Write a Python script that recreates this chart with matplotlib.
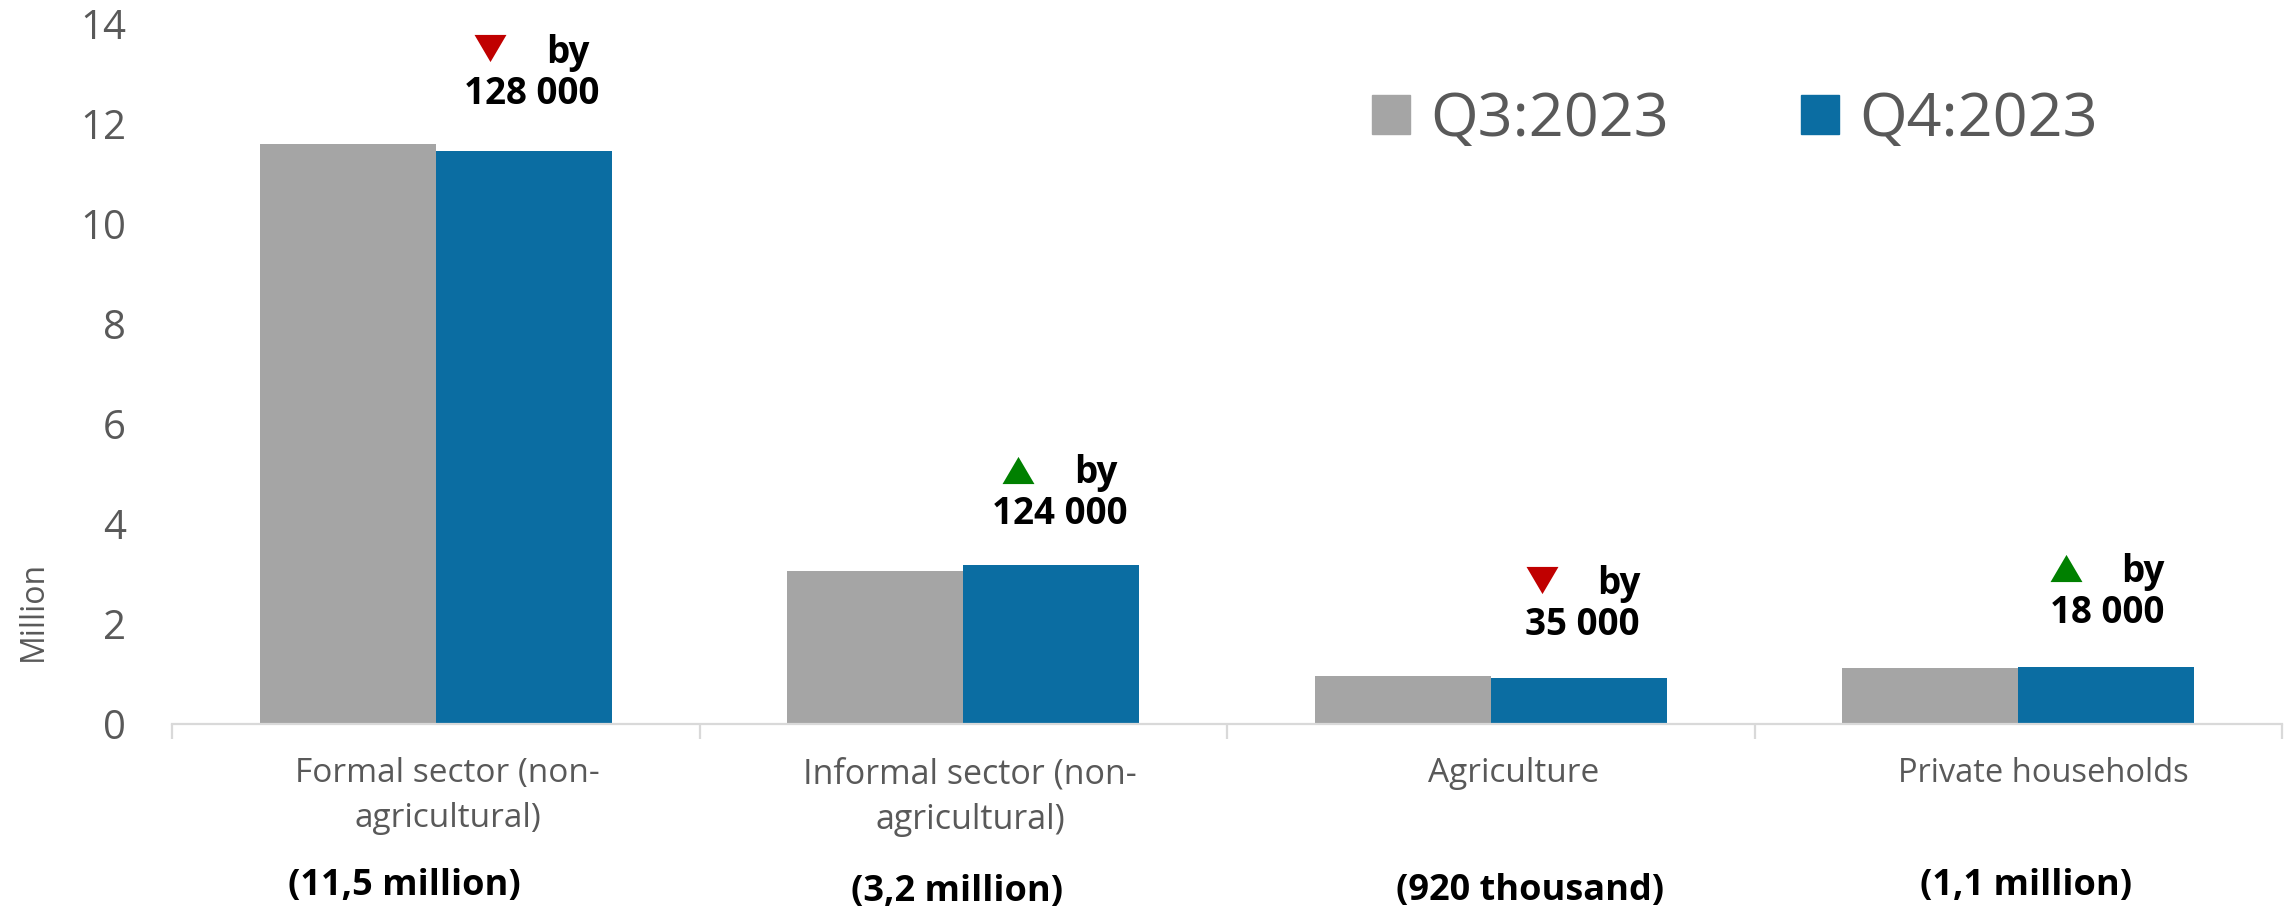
import numpy as np
import matplotlib
matplotlib.use("Agg")
import matplotlib.pyplot as plt
from matplotlib.patches import Patch
from matplotlib.transforms import ScaledTranslation

# ---------------- data ----------------
categories = ["Formal sector (non-\nagricultural)",
              "Informal sector (non-\nagricultural)",
              "Agriculture",
              "Private households"]
q3_2023 = [11.60, 3.06, 0.955, 1.12]
q4_2023 = [11.47, 3.18, 0.92, 1.138]
series_names = ["Q3:2023", "Q4:2023"]
change_text = ["by", "by", "by", "by"]
change_amount = ["128 000", "124 000", "35 000", "18 000"]
change_up = [False, True, False, True]
totals = ["(11,5 million)", "(3,2 million)", "(920 thousand)", "(1,1 million)"]
yticks = [0, 2, 4, 6, 8, 10, 12, 14]

# ---------------- style ----------------
plt.rcParams["font.family"] = ["Open Sans", "DejaVu Sans"]
GRAY = "#A5A5A5"
BLUE = "#0B6DA2"
TXT = "#595959"
AXIS = "#D9D9D9"
RED = "#C00000"
GREEN = "#008000"

W, H = 2285, 914
fig = plt.figure(figsize=(W / 100, H / 100), dpi=100)
ax = fig.add_axes([172 / W, 1 - 724 / H, (2282 - 172) / W, 700 / H])

x = np.arange(len(categories))
bw = 0.3335
ax.bar(x - bw / 2, q3_2023, bw, color=GRAY, zorder=2)
ax.bar(x + bw / 2, q4_2023, bw, color=BLUE, zorder=2)

ax.set_xlim(-0.5, len(categories) - 0.5)
ax.set_ylim(0, 14)

for s in ("left", "top", "right"):
    ax.spines[s].set_visible(False)
ax.spines["bottom"].set_color(AXIS)
ax.spines["bottom"].set_linewidth(1.6)

ax.set_yticks(yticks)
ax.set_yticklabels([str(v) for v in yticks])
ax.tick_params(axis="y", length=0, pad=33, labelsize=29, labelcolor=TXT)

ax.set_xticks(x)
ax.set_xticklabels(categories, linespacing=1.45)
ax.tick_params(axis="x", which="major", length=0, pad=24, labelsize=24, labelcolor=TXT)
label_sizes = [24, 24.5, 24, 23.5]
label_shift_in = [0.12, 0.07, 0.23, 0.25]
for lbl, fs, dx in zip(ax.get_xticklabels(), label_sizes, label_shift_in):
    lbl.set_fontsize(fs)
    lbl.set_transform(lbl.get_transform() + ScaledTranslation(dx, 0, fig.dpi_scale_trans))
ax.set_xticks(np.arange(-0.5, len(categories), 1.0), minor=True)
ax.tick_params(axis="x", which="minor", length=11, width=1.6, color=AXIS, direction="out")

# y label
fig.text(33 / W, 1 - 611 / H, "Million", rotation=90, ha="center", va="center",
         fontsize=23, color=TXT)

# legend
handles = [Patch(color=GRAY), Patch(color=BLUE)]
ax.legend(handles, series_names, loc="center left",
          bbox_to_anchor=(1372 / W, 1 - 120 / H), bbox_transform=fig.transFigure,
          ncol=2, frameon=False, fontsize=44, handlelength=0.62, handleheight=0.62,
          handletextpad=0.34, columnspacing=2.15, borderpad=0, borderaxespad=0,
          labelcolor=TXT)

# change annotations (layout offsets relative to category index)
tri_pos = [(0.103, 13.52), (0.104, 5.09), (0.097, 2.88), (0.091, 3.12)]
by_pos = [(0.251, 13.41), (0.252, 5.03), (0.243, 2.80), (0.237, 3.04)]
amt_pos = [(0.181, 12.60), (0.182, 4.21), (0.173, 1.98), (0.168, 2.22)]
down_tri = [(-1, 0.85), (1, 0.85), (0, -0.85), (-1, 0.85)]
up_tri = [(-1, -0.85), (1, -0.85), (0, 0.85), (-1, -0.85)]
for i in range(len(categories)):
    tx, ty = tri_pos[i]
    ax.scatter([i + tx], [ty], marker=up_tri if change_up[i] else down_tri,
               s=23 ** 2, color=GREEN if change_up[i] else RED, linewidths=0,
               zorder=3, clip_on=False)
    bx, by = by_pos[i]
    ax.text(i + bx, by, change_text[i], ha="center", va="center", fontsize=26.5,
            fontweight="bold", color="black")
    mx, my = amt_pos[i]
    ax.text(i + mx, my, change_amount[i], ha="center", va="center", fontsize=26.5,
            fontweight="bold", color="black")

# totals under the categories
tot_pos = [(-0.060, -3.24), (-0.011, -3.36), (0.075, -3.34), (0.015, -3.24)]
for i in range(len(categories)):
    px, py = tot_pos[i]
    ax.text(i + px, py, totals[i], ha="center", va="center", fontsize=26,
            fontweight="bold", color="black", clip_on=False)

fig.savefig("out.png", dpi=100)
